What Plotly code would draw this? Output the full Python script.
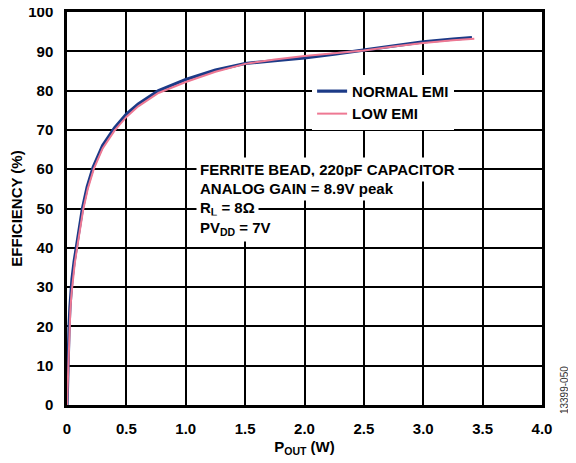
import plotly.graph_objects as go

# ---- data ----
normal_x = [0.0, 0.004, 0.008, 0.013, 0.018, 0.025, 0.033, 0.042, 0.06, 0.08, 0.1, 0.13, 0.17, 0.22,
            0.3, 0.4, 0.5, 0.6, 0.77, 1.0, 1.25, 1.5, 1.75, 2.0, 2.25, 2.5, 2.75, 3.0, 3.25, 3.41]
normal_y = [0.0, 6.0, 11.0, 16.0, 20.5, 25.0, 29.0, 32.0, 36.5, 40.5, 44.5, 50.0, 55.5, 60.5,
            66.0, 70.5, 74.0, 76.6, 80.0, 82.8, 85.2, 86.9, 87.6, 88.3, 89.3, 90.4, 91.5, 92.4, 93.1, 93.5]

low_x = [0.0, 0.005, 0.01, 0.015, 0.02, 0.028, 0.037, 0.047, 0.065, 0.085, 0.105, 0.135, 0.175, 0.225,
         0.3, 0.4, 0.5, 0.6, 0.77, 1.0, 1.25, 1.5, 1.75, 2.0, 2.25, 2.5, 2.75, 3.0, 3.25, 3.43]
low_y = [0.0, 5.0, 10.0, 14.5, 19.0, 24.0, 28.0, 31.5, 36.0, 40.0, 44.0, 49.5, 55.0, 60.0,
         65.3, 69.8, 73.3, 76.0, 79.4, 82.2, 84.8, 86.8, 87.9, 88.8, 89.5, 90.2, 91.2, 92.1, 92.8, 93.2]

x_tick_vals = [0, 0.5, 1.0, 1.5, 2.0, 2.5, 3.0, 3.5, 4.0]
x_tick_text = ["0", "0.5", "1.0", "1.5", "2.0", "2.5", "3.0", "3.5", "4.0"]
y_tick_vals = [0, 10, 20, 30, 40, 50, 60, 70, 80, 90, 100]

note_lines = [
    "FERRITE BEAD, 220pF CAPACITOR",
    "ANALOG GAIN = 8.9V peak",
    "R<sub>L</sub> = 8Ω",
    "PV<sub>DD</sub> = 7V",
]
note_y = [60, 55, 50, 45]

FONT = "Arial, Liberation Sans, Helvetica, sans-serif"

fig = go.Figure()
fig.add_trace(go.Scatter(x=normal_x, y=normal_y, mode="lines", name="NORMAL EMI",
                         line=dict(color="#1c3a87", width=3.2)))
fig.add_trace(go.Scatter(x=low_x, y=low_y, mode="lines", name="LOW EMI",
                         line=dict(color="#ee7893", width=2)))

for txt, yy in zip(note_lines, note_y):
    fig.add_annotation(x=1.083, y=yy, xref="x", yref="y", text=txt, showarrow=False,
                       xanchor="left", yanchor="middle", align="left",
                       bgcolor="white", borderpad=3,
                       font=dict(family=FONT, size=15, color="black", weight="bold"))

fig.add_annotation(x=1.0, y=0.038, xref="paper", yref="paper", text="13399-050",
                   showarrow=False, textangle=-90, xanchor="center", yanchor="middle",
                   xshift=22, font=dict(family=FONT, size=10, color="#333"))

axis_common = dict(showgrid=True, gridcolor="black", gridwidth=1.5,
                   showline=True, linecolor="black", linewidth=2.5, mirror=True,
                   zeroline=False, ticks="", ticklabelstandoff=8, automargin=False,
                   ticklabeloverflow="allow",
                   tickfont=dict(family=FONT, size=15, color="black", weight="bold"),
                   title_font=dict(family=FONT, size=15, color="black", weight="bold"))

fig.update_xaxes(range=[0, 4], tickvals=x_tick_vals, ticktext=x_tick_text,
                 title_text="P<sub>OUT</sub> (W)", title_standoff=6, **axis_common)
fig.update_yaxes(range=[0, 100], tickvals=y_tick_vals,
                 title_text="EFFICIENCY (%)", title_standoff=2, **axis_common)

# page body adds an 8px offset, so the figure is 8px smaller and margins shifted
fig.update_layout(
    width=568, height=455,
    margin=dict(l=59, r=34, t=4, b=58, autoexpand=False),
    paper_bgcolor="white", plot_bgcolor="white",
    showlegend=True,
    legend=dict(x=0.516, y=0.84, xanchor="left", yanchor="top",
                bgcolor="white", borderwidth=0, tracegroupgap=0,
                font=dict(family=FONT, size=15, color="black", weight="bold")),
)

fig.write_html("out.html")
